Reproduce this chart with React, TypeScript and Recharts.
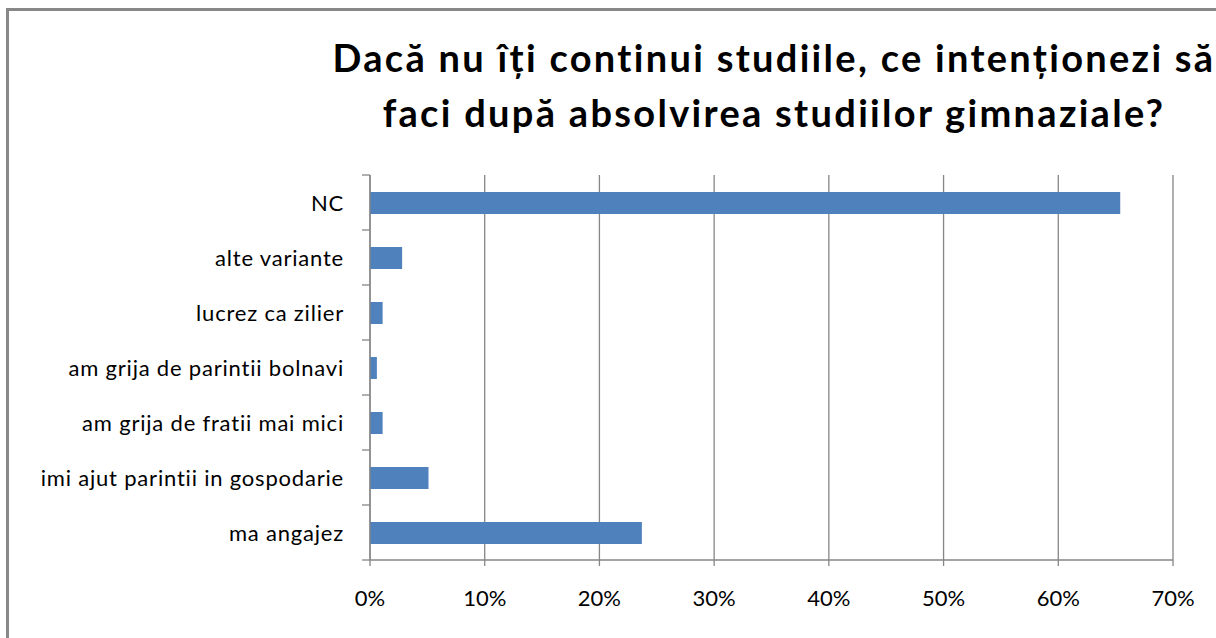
import { Bar, BarChart, CartesianGrid, XAxis, YAxis } from "recharts";

const CATEGORIES = [
  "NC",
  "alte variante",
  "lucrez ca zilier",
  "am grija de parintii bolnavi",
  "am grija de fratii mai mici",
  "imi ajut parintii in gospodarie",
  "ma angajez",
];

const VALUES = [65.4, 2.8, 1.1, 0.6, 1.1, 5.1, 23.7];

const X_TICKS = [0, 10, 20, 30, 40, 50, 60, 70];

const TITLE_LINES = [
  "Dacă nu îți continui studiile, ce intenționezi să",
  "faci după absolvirea studiilor gimnaziale?",
];

const GRID = "#868686";
const BAR = "#4F81BD";
const FONT = "Lato, 'Open Sans', sans-serif";

const chartData = CATEGORIES.map((name, i) => ({ name, value: VALUES[i] }));

// band height for one category (plot height / count)
const BAND = 385 / CATEGORIES.length;

function CategoryTick(props: any) {
  const { x, y, payload, index } = props;
  const axisX = x + 26;
  const last = index === CATEGORIES.length - 1;
  return (
    <g>
      <text
        x={x}
        y={y}
        textAnchor="end"
        dominantBaseline="central"
        fontSize={22}
        letterSpacing={0.8}
        fontFamily={FONT}
        fill="#000"
      >
        {payload.value}
      </text>
      <line x1={axisX - 8} x2={axisX} y1={y - BAND / 2} y2={y - BAND / 2} stroke={GRID} strokeWidth={1.3} />
      {last && (
        <line x1={axisX - 8} x2={axisX} y1={y + BAND / 2} y2={y + BAND / 2} stroke={GRID} strokeWidth={1.3} />
      )}
    </g>
  );
}

export default function App() {
  return (
    <div
      style={{
        position: "fixed",
        left: 0,
        top: 0,
        width: 1216,
        height: 638,
        overflow: "hidden",
        background: "#fff",
      }}
    >
      <div style={{ position: "absolute", left: 6, top: 8, width: 1210, height: 3, background: "#888" }} />
      <div style={{ position: "absolute", left: 6, top: 8, width: 3, height: 630, background: "#888" }} />
      {TITLE_LINES.map((line, i) => (
        <div
          key={i}
          style={{
            position: "absolute",
            left: 274,
            width: 1000,
            top: 34 + i * 55,
            textAlign: "center",
            fontFamily: FONT,
            fontWeight: 700,
            fontSize: 38,
            letterSpacing: 2.3,
            lineHeight: "46px",
            color: "#000",
            whiteSpace: "nowrap",
          }}
        >
          {line}
        </div>
      ))}
      <div style={{ position: "absolute", left: 0, top: 0 }}>
        <BarChart
          width={1216}
          height={638}
          data={chartData}
          layout="vertical"
          margin={{ top: 175, right: 43, bottom: 0, left: 0 }}
          barCategoryGap={0}
        >
          <CartesianGrid horizontal={false} stroke={GRID} strokeWidth={1.3} />
          <XAxis
            type="number"
            domain={[0, 70]}
            ticks={X_TICKS}
            interval={0}
            height={78}
            tickFormatter={(v) => `${v}%`}
            axisLine={{ stroke: GRID, strokeWidth: 1.3 }}
            tickLine={{ stroke: GRID, strokeWidth: 1.3 }}
            tickSize={6}
            tickMargin={24}
            tick={{ fontSize: 22, fontFamily: FONT, fill: "#000" }}
          />
          <YAxis
            type="category"
            dataKey="name"
            width={370}
            interval={0}
            axisLine={{ stroke: GRID, strokeWidth: 1.3 }}
            tickLine={false}
            tickSize={0}
            tickMargin={26}
            tick={<CategoryTick />}
          />
          <Bar dataKey="value" fill={BAR} barSize={22} isAnimationActive={false} />
        </BarChart>
      </div>
    </div>
  );
}
